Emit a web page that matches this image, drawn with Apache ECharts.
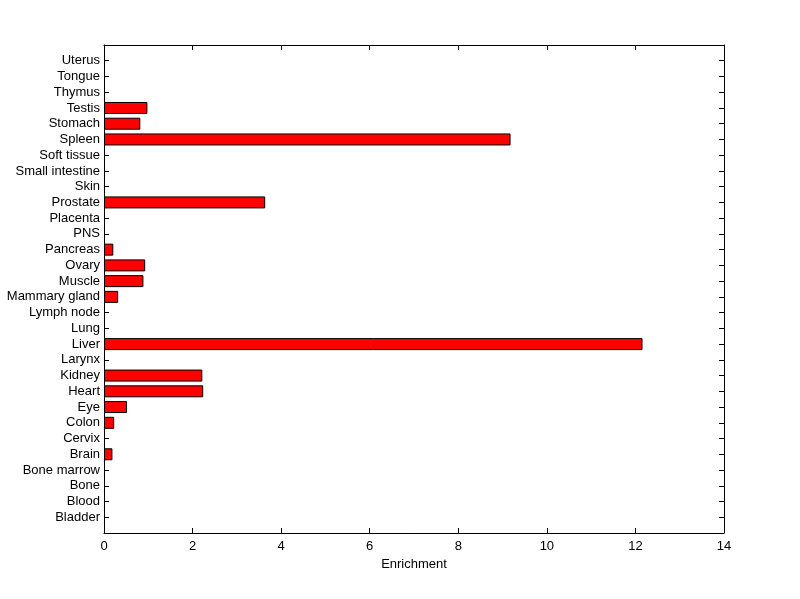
<!DOCTYPE html>
<html>
<head>
<meta charset="utf-8">
<script src="https://cdn.jsdelivr.net/npm/echarts@6/dist/echarts.min.js"></script>
<style>html,body{margin:0;padding:0;background:#fff;}#c{width:800px;height:599px;}</style>
</head>
<body>
<div id="c"></div>
<script>
// Categories, bottom to top
var categories = ['Bladder','Blood','Bone','Bone marrow','Brain','Cervix','Colon','Eye','Heart','Kidney','Larynx','Liver','Lung','Lymph node','Mammary gland','Muscle','Ovary','Pancreas','PNS','Placenta','Prostate','Skin','Small intestine','Soft tissue','Spleen','Stomach','Testis','Thymus','Tongue','Uterus'];
var enrichment = [0,0,0,0,0.19,0,0.23,0.52,2.24,2.22,0,12.16,0,0,0.32,0.89,0.93,0.21,0,0,3.64,0,0,0,9.18,0.82,0.98,0,0,0];
var xTicks = [0,2,4,6,8,10,12,14];
var xName = 'Enrichment';

var padCats = [''].concat(categories).concat(['']);
var padVals = [null].concat(enrichment.map(function(v){return v === 0 ? null : v;})).concat([null]);

var font = 'Arial, "Liberation Sans", sans-serif';
var chart = echarts.init(document.getElementById('c'), null, {renderer:'canvas'});
var lineStyle = {color:'#000', width:1};
var tick = {show:true, inside:true, length:5, lineStyle:lineStyle};
var axLine = {show:true, onZero:false, lineStyle:lineStyle};
chart.setOption({
  animation:false,
  backgroundColor:'#fff',
  grid:{left:104, right:76, top:45, bottom:66, containLabel:false},
  xAxis:[{
    type:'value', position:'bottom', min:xTicks[0], max:xTicks[xTicks.length-1], interval:2,
    name:xName, nameLocation:'middle', nameGap:25,
    nameTextStyle:{color:'#000', fontSize:13, fontFamily:font},
    axisLine:axLine,
    axisTick:tick,
    axisLabel:{color:'#000', fontSize:13, fontFamily:font, margin:7},
    splitLine:{show:false}
  },{
    type:'value', position:'top', min:xTicks[0], max:xTicks[xTicks.length-1], interval:2,
    axisLine:axLine,
    axisTick:tick,
    axisLabel:{show:false},
    splitLine:{show:false}
  }],
  yAxis:[{
    type:'category', position:'left', data:padCats, boundaryGap:false,
    axisLine:axLine,
    axisTick:{show:true, inside:true, length:5, lineStyle:lineStyle, interval:0},
    axisLabel:{color:'#000', fontSize:13, fontFamily:font, margin:4, interval:0},
    splitLine:{show:false}
  },{
    type:'category', position:'right', data:padCats, boundaryGap:false,
    axisLine:axLine,
    axisTick:{show:true, inside:true, length:5, lineStyle:lineStyle, interval:0},
    axisLabel:{show:false},
    splitLine:{show:false}
  }],
  series:[{
    type:'bar', xAxisIndex:0, yAxisIndex:0, data:padVals, barWidth:12,
    itemStyle:{color:'#ff0000', borderColor:'#000', borderWidth:1},
    silent:true
  },{
    type:'line', xAxisIndex:1, yAxisIndex:1, data:[], silent:true, showSymbol:false
  }]
});
</script>
</body>
</html>
